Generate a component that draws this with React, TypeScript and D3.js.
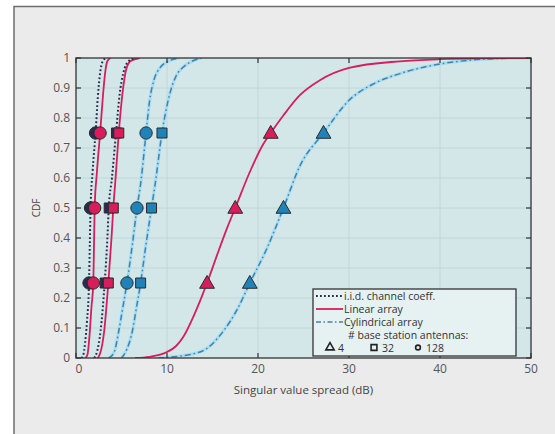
import React from "react";
import * as d3 from "d3";

// CDF curves: [singular value spread (dB), CDF]
const iid128 = [[0.6, 0], [0.8, 0.01], [1.0, 0.05], [1.2, 0.12], [1.43, 0.25], [1.52, 0.38], [1.6, 0.5], [1.82, 0.62], [2.15, 0.75], [2.4, 0.87], [2.65, 0.95], [2.95, 0.99], [3.3, 1]];
const linear128 = [[1.0, 0], [1.25, 0.01], [1.5, 0.08], [1.7, 0.17], [1.9, 0.25], [1.98, 0.38], [2.05, 0.5], [2.3, 0.62], [2.65, 0.75], [2.95, 0.87], [3.2, 0.95], [3.45, 0.99], [3.8, 1]];
const iid32 = [[2.0, 0], [2.3, 0.02], [2.7, 0.09], [3.15, 0.25], [3.45, 0.4], [3.6, 0.5], [3.95, 0.6], [4.4, 0.75], [4.8, 0.88], [5.2, 0.95], [5.8, 0.99], [6.5, 1]];
const linear32 = [[2.4, 0], [2.7, 0.02], [3.1, 0.09], [3.55, 0.25], [3.9, 0.4], [4.1, 0.5], [4.35, 0.6], [4.7, 0.75], [5.1, 0.88], [5.5, 0.96], [6.0, 0.99], [7.0, 1]];
const cyl128 = [[3.6, 0], [4.2, 0.02], [4.7, 0.09], [5.1, 0.16], [5.6, 0.25], [6.2, 0.38], [6.7, 0.5], [7.1, 0.58], [7.7, 0.75], [8.1, 0.86], [8.6, 0.93], [9.3, 0.97], [10.2, 0.99], [11.4, 1]];
const cyl32 = [[5.0, 0], [5.6, 0.03], [6.2, 0.09], [6.6, 0.16], [7.1, 0.25], [7.7, 0.38], [8.3, 0.5], [8.7, 0.58], [9.45, 0.75], [10.3, 0.88], [11.0, 0.94], [11.8, 0.97], [12.8, 0.99], [13.8, 1]];
const linear4 = [[6.5, 0], [8.1, 0.004], [10, 0.02], [11, 0.04], [11.8, 0.071], [12.9, 0.138], [13.8, 0.203], [14.4, 0.25], [15.5, 0.343], [16.6, 0.433], [17.5, 0.5], [19.1, 0.62], [20.6, 0.714], [21.4, 0.75], [22.8, 0.809], [24.6, 0.876], [26.8, 0.926], [30, 0.967], [35.6, 0.989], [40, 0.996], [45, 0.999], [50, 1]];
const cyl4 = [[9, 0], [10, 0.002], [13.7, 0.021], [16.3, 0.094], [17.7, 0.161], [19.1, 0.25], [20.9, 0.36], [22.8, 0.5], [24.6, 0.64], [27.2, 0.75], [30, 0.859], [32.7, 0.914], [35.6, 0.948], [40, 0.98], [42.7, 0.991], [46, 0.998], [50, 1]];

// marker positions at CDF = 0.25, 0.5, 0.75
const markerLevels = [0.25, 0.5, 0.75];
const iid128Marks = [1.43, 1.6, 2.15];
const linear128Marks = [1.9, 2.05, 2.65];
const iid32Marks = [3.2, 3.65, 4.45];
const linear32Marks = [3.55, 4.1, 4.7];
const cyl128Marks = [5.6, 6.7, 7.7];
const cyl32Marks = [7.1, 8.3, 9.45];
const linear4Marks = [14.4, 17.5, 21.4];
const cyl4Marks = [19.1, 22.8, 27.2];

const xTicks = [0, 10, 20, 30, 40, 50];
const yTicks = [0, 0.1, 0.2, 0.3, 0.4, 0.5, 0.6, 0.7, 0.8, 0.9, 1];
const legendLabels = ["i.i.d. channel coeff.", "Linear array", "Cylindrical array", "# base station antennas:"];
const antennaCounts = ["4", "32", "128"];

const W = 555;
const H = 434;
const margin = { left: 76, right: 24, top: 58, bottom: 76 };
const font = "'Open Sans', 'Noto Sans', sans-serif";

const NAVY = "#262d52";
const CRIMSON = "#d81d5c";
const BLUE_LINE = "#3d84b3";
const GLOW = "#a9dcee";
const BLUE_FILL = "#1f82b8";

export default function App() {
  const x = d3.scaleLinear().domain([0, 50]).range([margin.left, W - margin.right]);
  const y = d3.scaleLinear().domain([0, 1]).range([H - margin.bottom, margin.top]);
  const line = d3
    .line<number[]>()
    .x((d) => x(d[0]))
    .y((d) => y(d[1]))
    .curve(d3.curveMonotoneX);

  const [x0, x1] = x.range();
  const [y0, y1] = y.range();

  const sym = (type: d3.SymbolType, size: number) => d3.symbol().type(type).size(size)() as string;
  const circle = sym(d3.symbolCircle, 120);
  const square = sym(d3.symbolSquare, 100);
  const triangle = sym(d3.symbolTriangle, 95);

  const markerSet = (xs: number[], shape: string, fill: string, key: string) =>
    xs.map((v, i) => (
      <path
        key={key + i}
        d={shape}
        transform={`translate(${x(v)},${y(markerLevels[i]) + (shape === triangle ? 1 : 0)})`}
        fill={fill}
        stroke="#2b2b2b"
        strokeWidth={1}
      />
    ));

  const dotted = (data: number[][], key: string) => (
    <path key={key} d={line(data) as string} fill="none" stroke={NAVY} strokeWidth={2} strokeDasharray="1.8,2.2" />
  );
  const solid = (data: number[][], key: string) => (
    <path key={key} d={line(data) as string} fill="none" stroke={CRIMSON} strokeWidth={1.8} />
  );
  const dashDot = (data: number[][], key: string) => (
    <g key={key}>
      <path d={line(data) as string} fill="none" stroke={GLOW} strokeWidth={3.2} />
      <path d={line(data) as string} fill="none" stroke={BLUE_LINE} strokeWidth={1.5} strokeDasharray="6,3,1.5,3" />
    </g>
  );

  const lx = 313;
  const ly = 289;
  const rowH = 13;

  return (
    <svg width={W} height={H} style={{ position: "absolute", left: 0, top: 0 }} fontFamily={font}>
      <rect x={0} y={0} width={W} height={H} fill="#ffffff" />
      <rect x={14} y={6.5} width={700} height={600} fill="#ebebeb" stroke="#6e6e6e" strokeWidth={1.5} />

      <clipPath id="plot">
        <rect x={x0} y={y1} width={x1 - x0} height={y0 - y1} />
      </clipPath>
      <rect x={x0} y={y1} width={x1 - x0} height={y0 - y1} fill="#d3e7e9" />

      {/* grid */}
      {xTicks.slice(1, -1).map((t) => (
        <line key={"gx" + t} x1={x(t)} x2={x(t)} y1={y1} y2={y0} stroke="#c2d4d6" strokeWidth={1} />
      ))}
      {yTicks.slice(1, -1).map((t) => (
        <line key={"gy" + t} x1={x0} x2={x1} y1={y(t)} y2={y(t)} stroke="#c2d4d6" strokeWidth={1} />
      ))}

      <g clipPath="url(#plot)">
        {dashDot(cyl4, "c4")}
        {dashDot(cyl32, "c32")}
        {dashDot(cyl128, "c128")}
        {solid(linear4, "l4")}
        {solid(linear32, "l32")}
        {solid(linear128, "l128")}
        {dotted(iid32, "i32")}
        {dotted(iid128, "i128")}
      </g>

      {markerSet(iid128Marks, circle, NAVY, "mi128")}
      {markerSet(iid32Marks, square, NAVY, "mi32")}
      {markerSet(linear128Marks, circle, CRIMSON, "ml128")}
      {markerSet(linear32Marks, square, CRIMSON, "ml32")}
      {markerSet(cyl128Marks, circle, BLUE_FILL, "mc128")}
      {markerSet(cyl32Marks, square, BLUE_FILL, "mc32")}
      {markerSet(linear4Marks, triangle, CRIMSON, "ml4")}
      {markerSet(cyl4Marks, triangle, BLUE_FILL, "mc4")}

      {/* axes box and inward ticks */}
      <rect x={x0} y={y1} width={x1 - x0} height={y0 - y1} fill="none" stroke="#333" strokeWidth={1.3} />
      {xTicks.map((t) => (
        <g key={"xt" + t}>
          <line x1={x(t)} x2={x(t)} y1={y0} y2={y0 - 5} stroke="#333" strokeWidth={1.2} />
          <line x1={x(t)} x2={x(t)} y1={y1} y2={y1 + 5} stroke="#333" strokeWidth={1.2} />
          <text x={x(t) + (t === 0 ? 3 : 0)} y={y0 + 15} textAnchor="middle" fontSize={12} fill="#555">
            {t}
          </text>
        </g>
      ))}
      {yTicks.map((t) => (
        <g key={"yt" + t}>
          <line x1={x0} x2={x0 + 5} y1={y(t)} y2={y(t)} stroke="#333" strokeWidth={1.2} />
          <line x1={x1} x2={x1 - 5} y1={y(t)} y2={y(t)} stroke="#333" strokeWidth={1.2} />
          <text x={x0 - 6} y={y(t) + 4} textAnchor="end" fontSize={12} fill="#555">
            {String(+t.toFixed(1))}
          </text>
        </g>
      ))}

      <text x={(x0 + x1) / 2} y={y0 + 36} textAnchor="middle" fontSize={11.5} fill="#444">
        Singular value spread (dB)
      </text>
      <text transform={`translate(${40},${y(0.5)}) rotate(-90)`} textAnchor="middle" fontSize={10} fill="#444">
        CDF
      </text>

      {/* legend */}
      <rect x={lx} y={ly} width={203} height={67} fill="#e6f1f2" stroke="#333" strokeWidth={1.3} />
      <line x1={lx + 3} x2={lx + 30} y1={ly + 7} y2={ly + 7} stroke={NAVY} strokeWidth={1.8} strokeDasharray="1.8,2.2" />
      <line x1={lx + 3} x2={lx + 30} y1={ly + 7 + rowH} y2={ly + 7 + rowH} stroke={CRIMSON} strokeWidth={1.8} />
      <line x1={lx + 3} x2={lx + 30} y1={ly + 7 + 2 * rowH} y2={ly + 7 + 2 * rowH} stroke={BLUE_LINE} strokeWidth={1.5} strokeDasharray="5,2.5,1.5,2.5" />
      {legendLabels.map((s, i) => (
        <text key={s} x={lx + (i === 3 ? 35 : 31)} y={ly + 10.5 + i * rowH} fontSize={10.5} fill="#333">
          {s}
        </text>
      ))}
      {antennaCounts.map((s, i) => {
        const cx = lx + 17 + i * 44;
        const cy = ly + 10.5 + 4 * rowH;
        const shape = i === 0 ? sym(d3.symbolTriangle, 30) : i === 1 ? sym(d3.symbolSquare, 34) : sym(d3.symbolCircle, 18);
        return (
          <g key={s}>
            <path d={shape} transform={`translate(${cx},${cy - 4})`} fill="none" stroke="#222" strokeWidth={1.6} />
            <text x={cx + 8} y={cy} fontSize={10.5} fill="#333">
              {s}
            </text>
          </g>
        );
      })}
    </svg>
  );
}
